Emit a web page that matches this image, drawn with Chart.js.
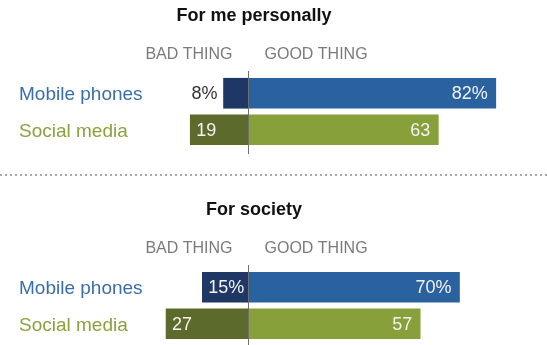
<!DOCTYPE html>
<html>
<head>
<meta charset="utf-8">
<script src="https://cdn.jsdelivr.net/npm/chart.js@4/dist/chart.umd.min.js"></script>
<style>
  html, body { margin: 0; padding: 0; background: #fff; }
  body { width: 547px; height: 345px; position: relative; overflow: hidden; }
  .panel { position: absolute; left: 0; width: 547px; height: 160px; }
  #sep {
    position: absolute; left: 0; top: 174px; width: 547px; height: 2px;
    background: repeating-linear-gradient(to right, #a8a8a8 0 2px, transparent 2px 5px);
  }
</style>
</head>
<body>
<div class="panel" style="top:0"><canvas id="grafico1"></canvas></div>
<div id="sep"></div>
<div class="panel" style="top:194px"><canvas id="grafico2"></canvas></div>

<script>
const categories = ['Mobile phones', 'Social media'];

const personalBad = [8, 19];
const personalGood = [82, 63];

const societyBad = [15, 27];
const societyGood = [70, 57];

const labelColors = ['#3b6ea8', '#8aa23c'];
const badColors = ['#1f3764', '#5c6a2b'];
const goodColors = ['#2a62a0', '#87a03a'];

const fontFamily = '"Liberation Sans", Arial, sans-serif';

// title, column headers, zero line and value labels
const panelText = {
    id: 'panelText',
    afterDatasetsDraw(chart, args, opts) {
        const ctx = chart.ctx;
        const x = chart.scales.x;
        const zero = Math.round(x.getPixelForValue(0)) + 0.5;

        ctx.save();
        ctx.textBaseline = 'middle';

        ctx.fillStyle = '#111';
        ctx.font = 'bold 18px ' + fontFamily;
        ctx.textAlign = 'center';
        ctx.fillText(opts.title, 254, 16);

        ctx.fillStyle = '#7a7a7a';
        ctx.font = '16px ' + fontFamily;
        ctx.textAlign = 'right';
        ctx.fillText('BAD THING', zero - 16, 55);
        ctx.textAlign = 'left';
        ctx.fillText('GOOD THING', zero + 16, 55);

        ctx.strokeStyle = '#6f6f6f';
        ctx.lineWidth = 1;
        ctx.beginPath();
        ctx.moveTo(zero, 71);
        ctx.lineTo(zero, 154);
        ctx.stroke();

        ctx.font = '18px ' + fontFamily;
        const bad = chart.getDatasetMeta(0);
        const good = chart.getDatasetMeta(1);
        bad.data.forEach((bar, i) => {
            const v = chart.data.datasets[0].data[i];
            const txt = Math.abs(v) + (i === 0 ? '%' : '');
            const w = ctx.measureText(txt).width;
            const left = Math.min(bar.x, bar.base);
            const barW = Math.abs(bar.base - bar.x);
            if (w + 8 > barW) {
                ctx.fillStyle = '#333';
                ctx.textAlign = 'right';
                ctx.fillText(txt, left - 6, bar.y + 1);
            } else {
                ctx.fillStyle = '#f2f2f2';
                ctx.textAlign = 'left';
                ctx.fillText(txt, left + 6, bar.y + 1);
            }
        });
        good.data.forEach((bar, i) => {
            const v = chart.data.datasets[1].data[i];
            const txt = v + (i === 0 ? '%' : '');
            ctx.fillStyle = '#f2f2f2';
            ctx.textAlign = 'right';
            ctx.fillText(txt, Math.max(bar.x, bar.base) - 8, bar.y + 1);
        });
        ctx.restore();
    }
};

function makeConfig(title, badVals, goodVals) {
    return {
        type: 'bar',
        data: {
            labels: categories,
            datasets: [{
                label: 'Bad thing',
                data: badVals.map(v => -v),
                backgroundColor: badColors,
                borderWidth: 0,
            },
            {
                label: 'Good thing',
                data: goodVals,
                backgroundColor: goodColors,
                borderWidth: 0,
            }]
        },
        options: {
            indexAxis: 'y',
            responsive: false,
            animation: false,
            events: [],
            layout: { padding: { left: 19, right: 27, top: 75, bottom: 12 } },
            datasets: { bar: { barThickness: 30 } },
            scales: {
                x: {
                    stacked: true,
                    min: -29,
                    max: 90,
                    display: false,
                },
                y: {
                    stacked: true,
                    grid: { display: false },
                    border: { display: false },
                    afterFit: axis => { axis.width = 141; },
                    ticks: {
                        crossAlign: 'far',
                        padding: 0,
                        labelOffset: 2,
                        font: { size: 19, family: fontFamily },
                        color: c => labelColors[c.index],
                    }
                }
            },
            plugins: {
                legend: { display: false },
                tooltip: { enabled: false },
                panelText: { title: title },
            }
        },
        plugins: [panelText]
    };
}

const c1 = document.getElementById('grafico1');
c1.width = 547; c1.height = 160;
const c2 = document.getElementById('grafico2');
c2.width = 547; c2.height = 160;

const personal = new Chart(c1, makeConfig('For me personally', personalBad, personalGood));
const society = new Chart(c2, makeConfig('For society', societyBad, societyGood));
</script>
</body>
</html>
